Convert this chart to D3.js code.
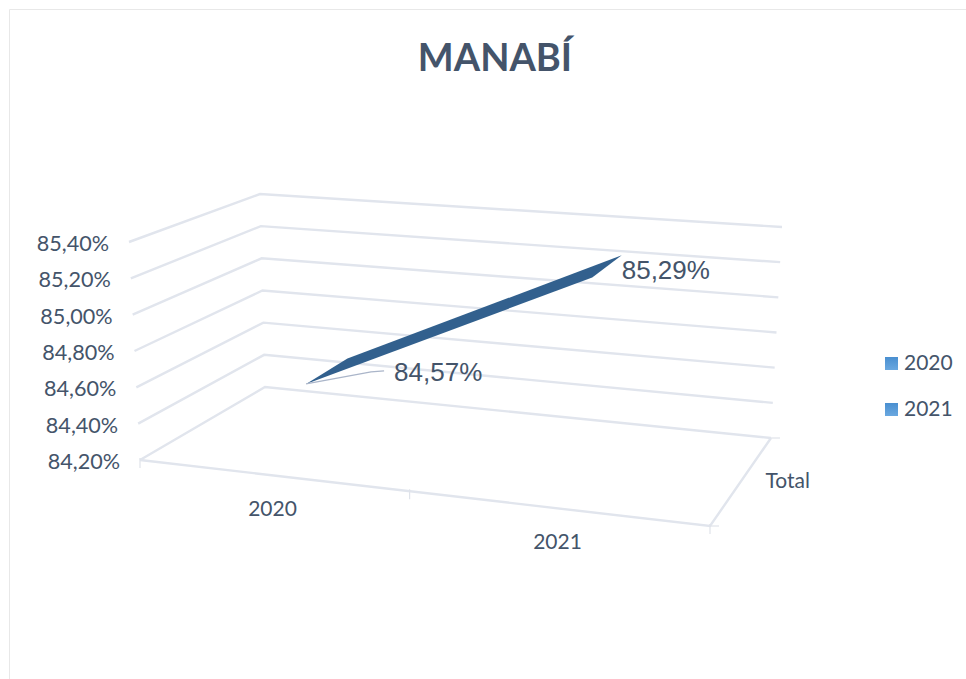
<!DOCTYPE html>
<html>
<head>
	<title>MANABÍ</title>
	<meta charset='utf-8'>
	<style>
		html, body {
			margin: 0;
			background: #fff;
		}

		svg {
			display: block;
		}

		text {
			font-family: Lato, sans-serif;
			fill: #44546a;
		}

		.grid {
			fill: none;
			stroke: #e1e5ed;
			stroke-width: 2.4px;
		}

		.tick-mark {
			fill: none;
			stroke: #dfe3ea;
			stroke-width: 1.2px;
		}

		.data-label {
			font-family: 'Liberation Sans', Arial, sans-serif;
		}
	</style>
</head>
<body>

<script src='https://d3js.org/d3.v7.min.js'></script>
<script>
	'use strict';

	const title = 'MANABÍ';
	const categories = ['2020', '2021'];
	const values = [84.57, 85.29];
	const valueLabels = ['84,57%', '85,29%'];
	const yTicks = [84.2, 84.4, 84.6, 84.8, 85, 85.2, 85.4];
	const yTickLabels = ['84,20%', '84,40%', '84,60%', '84,80%', '85,00%', '85,20%', '85,40%'];
	const legendItems = ['2020', '2021'];
	const depthLabel = 'Total';

	const width = 966;
	const height = 679;

	// Углы 3D-коробки на экране: [левый, правый] для передней и задней стенки
	const floorFront = [[140, 460], [710, 526]];
	const floorBack = [[265, 387], [771, 438]];
	const topFront = [[129, 242], [720, 288]];
	const topBack = [[260, 194], [782, 227]];

	const lerp = function(a, b, t) {return a + (b - a) * t;};
	const lerp2 = function(p, q, t) {return [lerp(p[0], q[0], t), lerp(p[1], q[1], t)];};

	const vScale = d3.scaleLinear().domain([84.2, 85.4]).range([0, 1]);
	const tScale = d3.scalePoint().domain(categories).range([0.23, 0.74]);
	const depthFront = 0.33;
	const depthBack = 0.7;

	// v - высота 0..1, t - вдоль оси категорий 0..1, d - в глубину 0..1
	function project(v, t, d) {
		const bottom = lerp2(lerp2(floorFront[0], floorFront[1], t), lerp2(floorBack[0], floorBack[1], t), d);
		const top = lerp2(lerp2(topFront[0], topFront[1], t), lerp2(topBack[0], topBack[1], t), d);
		return lerp2(bottom, top, v);
	}

	const line = d3.line();

	const svg = d3.select('body').append('svg')
		.attr('width', width)
		.attr('height', height);

	const defs = svg.append('defs');

	const ribbonGrad = defs.append('linearGradient')
		.attr('id', 'ribbon')
		.attr('x1', 0).attr('y1', 0)
		.attr('x2', 1).attr('y2', 1);
	ribbonGrad.append('stop').attr('offset', '0%').attr('stop-color', '#2b5a88');
	ribbonGrad.append('stop').attr('offset', '62%').attr('stop-color', '#33628f');
	ribbonGrad.append('stop').attr('offset', '100%').attr('stop-color', '#4f8fca');

	const swatchGrad = defs.append('linearGradient')
		.attr('id', 'swatch')
		.attr('x1', 0).attr('y1', 0)
		.attr('x2', 0).attr('y2', 1);
	swatchGrad.append('stop').attr('offset', '0%').attr('stop-color', '#4a8fd0');
	swatchGrad.append('stop').attr('offset', '100%').attr('stop-color', '#6aa8e0');

	defs.append('filter')
		.attr('id', 'soft')
		.append('feGaussianBlur')
		.attr('stdDeviation', 0.6);

	// Рамка картинки
	svg.append('path')
		.attr('d', 'M9.5,679V9.5H966')
		.attr('fill', 'none')
		.attr('stroke', '#e8e8e8');

	svg.append('text')
		.attr('x', 495)
		.attr('y', 71)
		.attr('text-anchor', 'middle')
		.style('font-size', '38px')
		.style('font-weight', 700)
		.text(title);

	// Сетка по стенкам
	const frame = svg.append('g').attr('filter', 'url(#soft)');

	frame.selectAll('.grid')
		.data(yTicks)
		.enter().append('path')
		.attr('class', 'grid')
		.attr('d', function(d) {
			const v = vScale(d);
			return line([project(v, 0, 0), project(v, 0, 1), project(v, 1, 1)]);
		});

	frame.append('path')
		.attr('class', 'grid')
		.attr('d', line([project(0, 0, 0), project(0, 1, 0), project(0, 1, 1)]));

	// Засечки на полу
	[0, 0.473, 1].forEach(function(t) {
		const p = project(0, t, 0);
		frame.append('path')
			.attr('class', 'tick-mark')
			.attr('d', line([[p[0], p[1] - 2], [p[0], p[1] + 8]]));
	});
	[0, 1].forEach(function(d) {
		const p = project(0, 1, d);
		frame.append('path')
			.attr('class', 'tick-mark')
			.attr('d', line([p, [p[0] + 9, p[1]]]));
	});

	svg.selectAll('.y-label')
		.data(yTicks)
		.enter().append('text')
		.attr('class', 'y-label')
		.attr('x', function(d) {return project(vScale(d), 0, 0)[0] - 20;})
		.attr('y', function(d) {return project(vScale(d), 0, 0)[1] + 9;})
		.attr('text-anchor', 'end')
		.style('font-size', '21.6px')
		.text(function(d, i) {return yTickLabels[i];});

	svg.selectAll('.x-label')
		.data(categories)
		.enter().append('text')
		.attr('class', 'x-label')
		.attr('x', function(d, i) {return project(0, (i + 0.5) / categories.length, 0)[0] - 10;})
		.attr('y', function(d, i) {return project(0, (i + 0.5) / categories.length, 0)[1] + 39;})
		.attr('text-anchor', 'middle')
		.style('font-size', '21px')
		.text(function(d) {return d;});

	svg.append('text')
		.attr('x', project(0, 1, 0.5)[0] + 25)
		.attr('y', project(0, 1, 0.5)[1] + 6)
		.style('font-size', '21px')
		.text(depthLabel);

	// Лента данных: передний и задний край
	const front = categories.map(function(c, i) {return project(vScale(values[i]), tScale(c), depthFront);});
	const back = categories.map(function(c, i) {return project(vScale(values[i]), tScale(c), depthBack);});

	svg.append('path')
		.attr('d', line([front[0], back[0], back[1], front[1]]) + 'Z')
		.attr('fill', 'url(#ribbon)')
		.attr('filter', 'url(#soft)');

	// Выноска к первой подписи
	svg.append('path')
		.attr('d', line([front[0], [front[0][0] + 65, front[0][1] - 12], [front[0][0] + 78, front[0][1] - 13]]))
		.attr('fill', 'none')
		.attr('stroke', '#aab5c9')
		.attr('stroke-width', 1.3);

	svg.append('text')
		.attr('class', 'data-label')
		.attr('x', front[0][0] + 88)
		.attr('y', front[0][1] - 3)
		.style('font-size', '26px')
		.text(valueLabels[0]);

	svg.append('text')
		.attr('class', 'data-label')
		.attr('x', back[1][0] + 0)
		.attr('y', back[1][1] + 24)
		.style('font-size', '26px')
		.text(valueLabels[1]);

	// Легенда
	const legend = svg.selectAll('.legend')
		.data(legendItems)
		.enter().append('g')
		.attr('class', 'legend')
		.attr('transform', function(d, i) {return 'translate(885,' + (357 + i * 46) + ')';});

	legend.append('rect')
		.attr('width', 13)
		.attr('height', 13)
		.attr('fill', 'url(#swatch)');

	legend.append('text')
		.attr('x', 19)
		.attr('y', 13)
		.style('font-size', '21px')
		.text(function(d) {return d;});
</script>
</body>
</html>
